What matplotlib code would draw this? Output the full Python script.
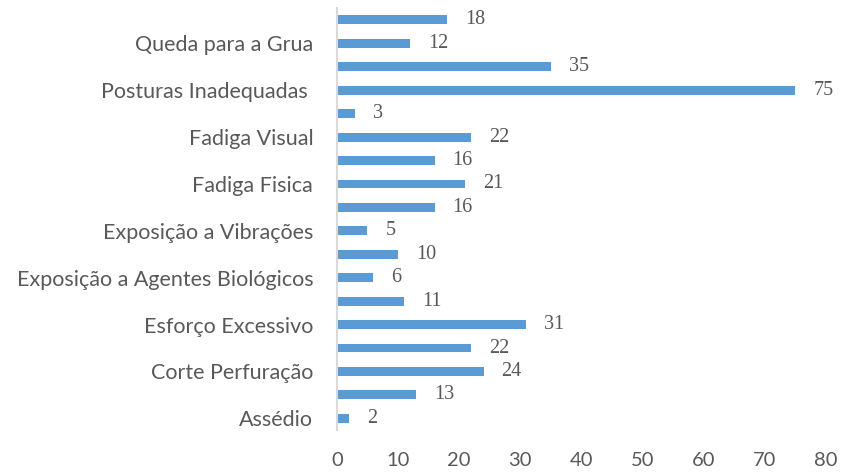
import matplotlib
matplotlib.use("Agg")
import matplotlib.pyplot as plt

# categories from bottom to top; Excel only printed every other label
labels = ["Assédio", "", "Corte Perfuração", "", "Esforço Excessivo", "",
          "Exposição a Agentes Biológicos", "", "Exposição a Vibrações", "",
          "Fadiga Fisica", "", "Fadiga Visual", "", "Posturas Inadequadas ", "",
          "Queda para a Grua", ""]
values = [2, 13, 24, 22, 31, 11, 6, 10, 5, 16, 21, 16, 22, 3, 75, 35, 12, 18]
xticks = [0, 10, 20, 30, 40, 50, 60, 70, 80]

fig = plt.figure(figsize=(8.42, 4.75), dpi=100)
ax = fig.add_axes([0.400, 0.0947, 0.581, 0.888])

pos = list(range(len(values)))
bars = ax.barh(pos, values, height=0.38, color="#5B9BD5")
ax.bar_label(bars, labels=[str(v) for v in values], padding=13,
             fontsize=14.5, color="#595959", family="Liberation Serif")

ax.set_xlim(0, 80)
ax.set_ylim(-0.5, len(values) - 0.5)
ax.set_xticks(xticks)
ax.set_xticklabels([str(t) for t in xticks], fontsize=14.5, color="#595959", family="Lato")
ax.set_yticks(pos)
ax.set_yticklabels(labels, fontsize=15.5, color="#595959", family="Lato")
ax.tick_params(axis="both", length=0)
ax.tick_params(axis="y", pad=17)
ax.tick_params(axis="x", pad=16)

for s in ["top", "right", "bottom"]:
    ax.spines[s].set_visible(False)
ax.spines["left"].set_color("#D9D9D9")
ax.spines["left"].set_linewidth(1.5)

fig.savefig("out.png", dpi=100)
